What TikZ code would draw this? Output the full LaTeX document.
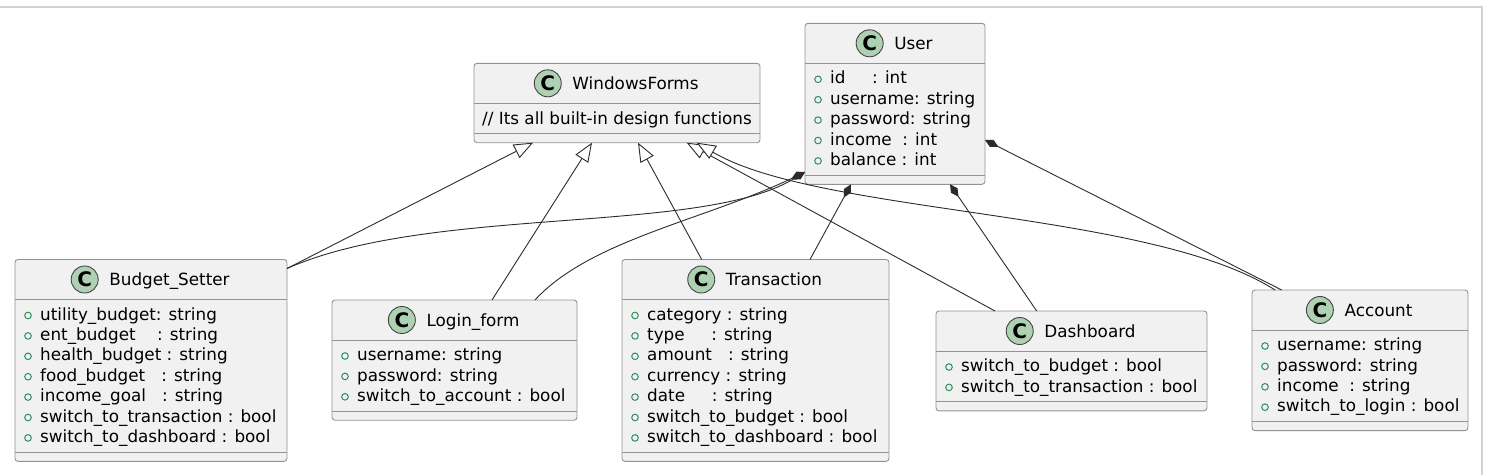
\documentclass[tikz,border=0pt]{standalone}
\usepackage{fontspec}
\setmainfont{DejaVu Sans}
\usetikzlibrary{arrows.meta,calc}
\definecolor{boxfill}{HTML}{F1F1F1}
\definecolor{boxdraw}{HTML}{939393}
\definecolor{linecol}{HTML}{2B2B2B}
\definecolor{iconfill}{HTML}{ADD1B2}
\definecolor{icondraw}{HTML}{444444}
\definecolor{pubcol}{HTML}{2D8F5E}
\definecolor{framecol}{HTML}{D3D3D3}
\tikzset{
  classbox/.style={draw=boxdraw, fill=boxfill, line width=0.9pt, rounded corners=3pt, inner sep=0pt, outer sep=0pt},
  sepline/.style={draw=boxdraw, line width=0.9pt},
  titletext/.style={inner sep=0pt, font=\fontsize{16.8}{20}\selectfont, text=black},
  attrtext/.style={inner sep=0pt, font=\fontsize{16.8}{20}\selectfont, text=black},
  cicon/.style={circle, draw=icondraw, fill=iconfill, line width=0.9pt, minimum size=27pt, inner sep=0pt, font=\fontsize{20}{20}\selectfont\bfseries},
  pubicon/.style={draw=pubcol, line width=1pt},
  inh/.style={draw=linecol, line width=0.9pt, -{Triangle[length=19pt,width=15pt,fill=white]}},
  comp/.style={draw=linecol, line width=0.9pt, {Diamond[length=15pt,width=8pt]}-},
  frameline/.style={draw=framecol, line width=1.2pt}
}
\newcommand\umlclass[6]{%
  \pgfmathsetmacro\umlbh{59+20.4*#5}%
  \node[classbox, minimum width=#4pt, minimum height=\umlbh pt, anchor=north west] (#1) at (#2,#3) {};
  \draw[sepline] ([yshift=-40pt]#1.north west) -- ([yshift=-40pt]#1.north east);
  \draw[sepline] ([yshift=9pt]#1.south west) -- ([yshift=9pt]#1.south east);
  \node[titletext, anchor=base] (#1-t) at ([xshift=18.5pt,yshift=-26.2pt]#1.north) {#6};
  \path let \p1=(#1-t.west), \p2=(#1.north) in node[cicon] (#1-c) at (\x1-24.5pt,\y2-20pt) {C};
}
\newcommand\umlattrs[2]{%
  \foreach \rowtxt [count=\i] in {#2} {%
    \pgfmathsetmacro\yb{60.6+20.4*(\i-1)}%
    \pgfmathsetmacro\yc{\yb-4.6}%
    \node[attrtext, anchor=base west] at ([xshift=25pt,yshift=-\yb pt]#1.north west) {\rowtxt};
    \draw[pubicon] ([xshift=13pt,yshift=-\yc pt]#1.north west) circle[radius=3.3pt];
  }%
}
\begin{document}
\begin{tikzpicture}[x=1pt,y=-1pt]
\useasboundingbox (0,0) rectangle (1492,475);
\draw[frameline] (0,7) -- (1482,7) -- (1482,475);

% classes
\umlclass{us}{805}{23.3}{180}{5}{User}
\umlattrs{us}{id~~~~~: int, username: string, password: string, income~~: int, balance : int}

\umlclass{wf}{474}{63.3}{286}{1}{WindowsForms}
\node[attrtext, anchor=base] (wf-c1) at ([yshift=-61.6pt]wf.north) {// Its all built-in design functions};

\umlclass{bs}{15}{259.5}{272}{7}{Budget\_Setter}
\umlattrs{bs}{utility\_budget: string, ent\_budget~~~~: string, health\_budget : string, food\_budget~~~: string, income\_goal~~~: string, switch\_to\_transaction : bool, switch\_to\_dashboard : bool}

\umlclass{lf}{332}{300}{245}{3}{Login\_form}
\umlattrs{lf}{username: string, password: string, switch\_to\_account : bool}

\umlclass{tr}{622}{259.5}{267}{7}{Transaction}
\umlattrs{tr}{category : string, type~~~~~: string, amount~~~: string, currency : string, date~~~~~: string, switch\_to\_budget : bool, switch\_to\_dashboard : bool}

\umlclass{db}{936}{311}{271}{2}{Dashboard}
\umlattrs{db}{switch\_to\_budget : bool, switch\_to\_transaction : bool}

\umlclass{ac}{1252}{290}{216}{4}{Account}
\umlattrs{ac}{username: string, password: string, income~~: string, switch\_to\_login : bool}

% inheritance
\draw[inh] ([yshift=-9pt]bs.north east) -- ([xshift=59pt]wf.south west);
\draw[inh] ([xshift=160pt]lf.north west) -- ([xshift=118pt]wf.south west);
\draw[inh] ([xshift=79.7pt]tr.north west) -- ([xshift=164pt]wf.south west);
\draw[inh] ([xshift=59pt]db.north west) -- ([xshift=212.7pt]wf.south west);
\draw[inh] ([xshift=23pt]ac.north west) .. controls (1150,210) and (820,215) .. ([xshift=222.7pt]wf.south west);

% composition
\draw[comp] ([yshift=-148.7pt]us.north west) .. controls (700,235) and (430,205) .. ([yshift=-9pt]bs.north east);
\draw[comp] ([yshift=-148.7pt]us.north west) .. controls (705,220) and (590,240) .. ([xshift=203pt]lf.north west);
\draw[comp] ([xshift=46pt]us.south west) -- ([xshift=188pt]tr.north west);
\draw[comp] ([xshift=145pt]us.south west) -- ([xshift=100.7pt]db.north west);
\draw[comp] ([yshift=-116.7pt]us.north east) -- ([xshift=29.7pt]ac.north west);
\end{tikzpicture}
\end{document}
